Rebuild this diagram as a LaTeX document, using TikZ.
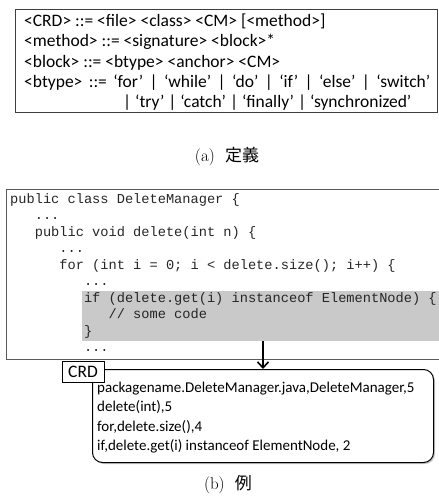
\documentclass[tikz,border=0pt]{standalone}
\usepackage{fontspec}
\usetikzlibrary{arrows.meta,shadows}
\newfontfamily\calfont{Carlito}
\newfontfamily\codefont{Liberation Mono}
\newfontfamily\cjkfont{Noto Sans CJK JP}
\definecolor{boxline}{HTML}{3F3F3F}
\definecolor{codeline}{HTML}{5A5A5A}
\definecolor{hlgray}{HTML}{C9C9C9}
\begin{document}
\begin{tikzpicture}[x=1pt,y=-1pt,
  grammar/.style={anchor=base west, inner sep=0pt, font=\calfont\fontsize{17.5}{20}\selectfont},
  codeln/.style={anchor=base west, inner sep=0pt, font=\codefont\fontsize{13.67}{16}\selectfont, text=black!85},
  crdln/.style={anchor=base west, inner sep=0pt, font=\calfont\fontsize{15}{18}\selectfont},
  capt/.style={inner sep=0pt, font=\fontsize{17}{20}\selectfont},
]
\useasboundingbox (0,0) rectangle (439,501);
\clip (0,0) rectangle (439,501);

% (a) definition box
\node[draw=boxline, line width=1pt, anchor=north west, inner sep=0pt,
      minimum width=422pt, minimum height=103pt] (defbox) at (15,9) {};
\node[grammar] (g1) at (24,26.5) {<CRD> ::= <file> <class> <CM> [<method>]};
\node[grammar] (g2) at (24,46.8) {<method> ::= <signature> <block>*};
\node[grammar] (g3) at (24,67.1) {<block> ::= <btype> <anchor> <CM>};
\node[grammar] (g4) at (24,87.4) {\makebox[406pt][s]{<btype> ::= ‘for’ | ‘while’ | ‘do’ | ‘if’ | ‘else’ | ‘switch’}};
\node[grammar] (g5) at (123,107.7) {| ‘try’ | ‘catch’ | ‘finally’ | ‘synchronized’};

\node[capt] (capa) at (227,156) {(a)\hspace{0.6em}{\cjkfont 定義}};

% (b) code box
\node[fill=hlgray, anchor=north west, inner sep=0pt,
      minimum width=370pt, minimum height=50pt] (hl) at (82,291) {};
\draw[codeline, line width=1pt] (450,189) -- (6,189) -- (6,359) -- (450,359);

\node[codeln] (c0) at (10,203) {public class DeleteManager \{};
\node[codeln] (c1) at (34.6,219.5) {...};
\node[codeln] (c2) at (34.6,236) {public void delete(int n) \{};
\node[codeln] (c3) at (59.2,252.5) {...};
\node[codeln] (c4) at (59.2,269) {for (int i = 0; i < delete.size(); i++) \{};
\node[codeln] (c5) at (83.8,285.5) {...};
\node[codeln] (c6) at (83.8,302) {if (delete.get(i) instanceof ElementNode) \{};
\node[codeln] (c7) at (108.4,318.5) {// some code};
\node[codeln] (c8) at (83.8,335) {\}};
\node[codeln] (c9) at (83.8,351.5) {...};

% CRD result box
\node[draw=black, line width=1pt, rounded corners=10pt, fill=white,
      drop shadow={shadow xshift=1.5pt, shadow yshift=-1.5pt, opacity=0.45},
      anchor=north west, inner sep=0pt,
      minimum width=341pt, minimum height=93pt] (rb) at (92,369) {};
\node[crdln] (r1) at (97,392) {packagename.DeleteManager.java,DeleteManager,5};
\node[crdln] (r2) at (97,411.5) {delete(int),5};
\node[crdln] (r3) at (97,431) {for,delete.size(),4};
\node[crdln] (r4) at (97,450.5) {if,delete.get(i) instanceof ElementNode, 2};

\node[draw=black, line width=1pt, fill=white, inner sep=0pt,
      minimum width=42pt, minimum height=21pt,
      font=\calfont\fontsize{17.5}{20}\selectfont] (crd) at (83,371.5) {CRD};

\draw[line width=1.6pt, -{Straight Barb[length=6pt,width=11pt,line width=1.6pt]}]
  (hl.south -| rb.north) -- (rb.north);

\node[capt] (capb) at (228,485) {(b)\hspace{0.6em}{\cjkfont 例}};
\end{tikzpicture}
\end{document}
